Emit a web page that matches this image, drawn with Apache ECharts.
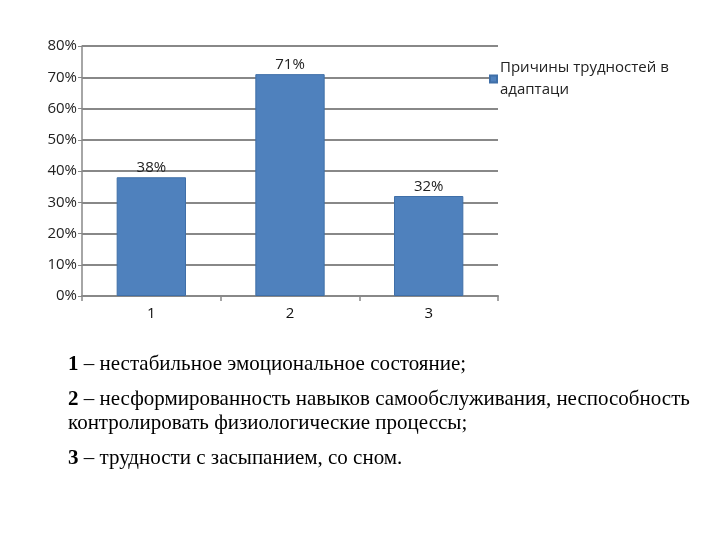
<!DOCTYPE html>
<html>
<head>
<meta charset="utf-8">
<script src="https://cdn.jsdelivr.net/npm/echarts@6/dist/echarts.min.js"></script>
<style>html,body{margin:0;padding:0;background:#fff}#c{width:720px;height:540px}</style>
</head>
<body>
<div id="c"></div>
<script>
const categories = ['1', '2', '3'];
const values = [38, 71, 32];
const seriesName = 'Причины трудностей в\nадаптаци';
const notes = [
  ['1', ' – нестабильное эмоциональное состояние;'],
  ['2', ' – несформированность навыков самообслуживания, неспособность'],
  ['', 'контролировать физиологические процессы;'],
  ['3', ' – трудности с засыпанием, со сном.']
];
const noteY = [366, 401, 425, 460];

const chart = echarts.init(document.getElementById('c'));
const sans = 'Open Sans';
chart.setOption({
  animation: false,
  grid: { left: 82, top: 46, width: 416, height: 250 },
  legend: {
    left: 484, top: 52, orient: 'vertical',
    itemWidth: 7, itemHeight: 7, itemGap: 0,
    icon: 'rect',
    textStyle: { fontFamily: sans, fontSize: 15, color: '#222', lineHeight: 22, padding: [0,0,0,-2] },
    data: [seriesName]
  },
  xAxis: {
    type: 'category', data: categories,
    axisLine: { lineStyle: { color: '#888', width: 2 } },
    axisTick: { show: true, length: 5, lineStyle: { color: '#888', width: 1.5 } },
    axisLabel: { fontFamily: sans, fontSize: 15, color: '#111', margin: 10 }
  },
  yAxis: {
    type: 'value', min: 0, max: 80, interval: 10,
    axisLine: { show: true, lineStyle: { color: '#888', width: 1.5 } },
    axisTick: { show: true, length: 4, lineStyle: { color: '#888' } },
    splitLine: { lineStyle: { color: '#888', width: 2 } },
    axisLabel: { formatter: '{value}%', fontFamily: sans, fontSize: 15, color: '#222', margin: 5 }
  },
  series: [{
    name: seriesName, type: 'bar', data: values, barWidth: '50%',
    itemStyle: { color: '#4F81BD', borderColor: '#3f6fa8', borderWidth: 1 },
    label: { show: true, position: 'top', formatter: '{c}%', fontFamily: sans, fontSize: 15, color: '#222', distance: 2 }
  }],
  graphic: notes.map((n, i) => ({
    type: 'text', left: 68, top: noteY[i] - 12,
    style: {
      rich: {
        b: { fontFamily: 'Liberation Serif', fontSize: 21, fontWeight: 'bold', fill: '#000' },
        t: { fontFamily: 'Liberation Serif', fontSize: 21, fill: '#000' }
      },
      text: (n[0] ? '{b|' + n[0] + '}' : '') + '{t|' + n[1] + '}'
    }
  }))
});
</script>
</body>
</html>
